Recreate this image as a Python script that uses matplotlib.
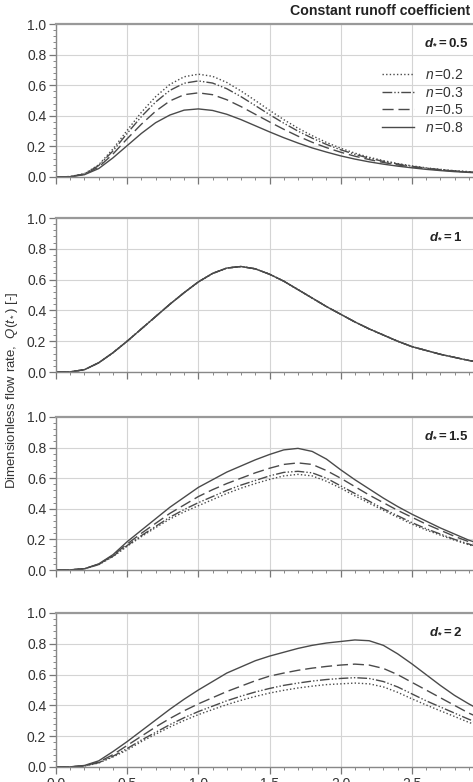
import matplotlib
matplotlib.use("Agg")
import matplotlib.pyplot as plt
from matplotlib.ticker import MultipleLocator

plt.rcParams['font.family'] = ['Liberation Sans', 'DejaVu Sans']
plt.rcParams['mathtext.fontset'] = 'custom'
plt.rcParams['mathtext.rm'] = 'Liberation Sans'
plt.rcParams['mathtext.it'] = 'Liberation Sans:italic'
plt.rcParams['mathtext.bf'] = 'Liberation Sans:bold'
plt.rcParams['mathtext.bfit'] = 'Liberation Sans:italic:bold'

# dimensionless time t*
t = [0.0, 0.1, 0.2, 0.3, 0.4, 0.5, 0.6, 0.7, 0.8, 0.9, 1.0,
     1.1, 1.2, 1.3, 1.4, 1.5, 1.6, 1.7, 1.8, 1.9, 2.0,
     2.1, 2.2, 2.3, 2.4, 2.5, 2.6, 2.7, 2.8, 2.9, 3.0]

n_values = [0.2, 0.3, 0.5, 0.8]
d_labels = ['0.5', '1', '1.5', '2']

# d* = 0.5
q05_n02 = [0, 0.003, 0.022, 0.08, 0.183, 0.305, 0.423, 0.525, 0.605, 0.655, 0.672,
           0.658, 0.618, 0.562, 0.5, 0.436, 0.375, 0.319, 0.27, 0.226, 0.188,
           0.156, 0.129, 0.107, 0.088, 0.073, 0.06, 0.05, 0.041, 0.035, 0.029]
q05_n03 = [0, 0.003, 0.02, 0.075, 0.17, 0.285, 0.395, 0.49, 0.566, 0.613, 0.628,
           0.614, 0.577, 0.525, 0.467, 0.408, 0.352, 0.3, 0.254, 0.213, 0.178,
           0.148, 0.123, 0.102, 0.085, 0.07, 0.058, 0.048, 0.04, 0.034, 0.028]
q05_n05 = [0, 0.002, 0.018, 0.065, 0.15, 0.25, 0.345, 0.43, 0.497, 0.538, 0.55,
           0.538, 0.505, 0.46, 0.41, 0.36, 0.312, 0.267, 0.227, 0.192, 0.162,
           0.136, 0.114, 0.095, 0.079, 0.066, 0.055, 0.046, 0.038, 0.032, 0.027]
q05_n08 = [0, 0.002, 0.015, 0.055, 0.125, 0.205, 0.285, 0.355, 0.405, 0.437, 0.445,
           0.435, 0.41, 0.375, 0.335, 0.295, 0.257, 0.222, 0.19, 0.163, 0.138,
           0.117, 0.099, 0.084, 0.071, 0.06, 0.05, 0.042, 0.035, 0.03, 0.025]

# d* = 1 (all n coincide)
q1 = [0, 0.001, 0.015, 0.06, 0.125, 0.2, 0.28, 0.36, 0.44, 0.515, 0.585,
      0.64, 0.675, 0.685, 0.67, 0.635, 0.59, 0.535, 0.48, 0.425, 0.375,
      0.325, 0.28, 0.24, 0.2, 0.165, 0.14, 0.115, 0.095, 0.075, 0.06]

# d* = 1.5
q15_n02 = [0, 0.001, 0.008, 0.035, 0.087, 0.155, 0.218, 0.277, 0.333, 0.38, 0.42,
           0.46, 0.5, 0.535, 0.565, 0.592, 0.615, 0.625, 0.615, 0.58, 0.535,
           0.485, 0.437, 0.39, 0.345, 0.3, 0.262, 0.228, 0.195, 0.165, 0.137]
q15_n03 = [0, 0.001, 0.008, 0.036, 0.09, 0.16, 0.225, 0.285, 0.345, 0.395, 0.44,
           0.48, 0.52, 0.555, 0.585, 0.615, 0.638, 0.645, 0.635, 0.6, 0.55,
           0.5, 0.45, 0.4, 0.355, 0.31, 0.27, 0.235, 0.2, 0.17, 0.14]
q15_n05 = [0, 0.001, 0.008, 0.038, 0.095, 0.17, 0.24, 0.305, 0.37, 0.425, 0.48,
           0.525, 0.565, 0.6, 0.635, 0.665, 0.69, 0.7, 0.69, 0.65, 0.6,
           0.545, 0.49, 0.44, 0.39, 0.345, 0.3, 0.26, 0.22, 0.185, 0.155]
q15_n08 = [0, 0.001, 0.008, 0.04, 0.1, 0.185, 0.26, 0.335, 0.41, 0.475, 0.54,
           0.59, 0.64, 0.68, 0.72, 0.755, 0.785, 0.795, 0.775, 0.725, 0.655,
           0.59, 0.53, 0.47, 0.415, 0.365, 0.32, 0.275, 0.235, 0.195, 0.165]

# d* = 2
q2_n02 = [0, 0.001, 0.006, 0.026, 0.065, 0.11, 0.165, 0.213, 0.26, 0.302, 0.34,
          0.373, 0.405, 0.433, 0.458, 0.48, 0.498, 0.513, 0.525, 0.535, 0.54,
          0.545, 0.54, 0.52, 0.485, 0.443, 0.403, 0.365, 0.328, 0.29, 0.258]
q2_n03 = [0, 0.001, 0.007, 0.028, 0.07, 0.12, 0.175, 0.225, 0.275, 0.32, 0.36,
          0.395, 0.43, 0.46, 0.487, 0.51, 0.53, 0.545, 0.558, 0.568, 0.575,
          0.58, 0.575, 0.555, 0.52, 0.475, 0.43, 0.39, 0.35, 0.31, 0.275]
q2_n05 = [0, 0.001, 0.008, 0.032, 0.08, 0.14, 0.2, 0.26, 0.315, 0.365, 0.41,
          0.45, 0.49, 0.525, 0.56, 0.59, 0.61, 0.628, 0.642, 0.653, 0.662,
          0.668, 0.662, 0.64, 0.6, 0.55, 0.5, 0.45, 0.4, 0.35, 0.31]
q2_n08 = [0, 0.001, 0.01, 0.04, 0.1, 0.165, 0.235, 0.305, 0.375, 0.44, 0.5,
          0.555, 0.61, 0.65, 0.69, 0.72, 0.745, 0.77, 0.79, 0.805, 0.815,
          0.825, 0.82, 0.79, 0.735, 0.67, 0.6, 0.53, 0.465, 0.41, 0.36]

panels = [
    [q05_n02, q05_n03, q05_n05, q05_n08],
    [q1, q1, q1, q1],
    [q15_n02, q15_n03, q15_n05, q15_n08],
    [q2_n02, q2_n03, q2_n05, q2_n08],
]

styles = [(0, (1, 1.6)), (0, (7, 1.5, 1, 1.5, 1, 1.5)), (0, (8, 3.5)), '-']
line_col = '#4a4a4a'

W, H = 473, 782
fig = plt.figure(figsize=(W / 100, H / 100), dpi=100)

# (top, bottom) of each panel in pixels
boxes = [(24, 177), (218, 372), (417, 570), (613, 767)]
ax_left, ax_right = 56, 483

for i, (top, bot) in enumerate(boxes):
    ax = fig.add_axes([ax_left / W, 1 - bot / H, (ax_right - ax_left) / W, (bot - top) / H])
    for q, ls, n in zip(panels[i], styles, n_values):
        ax.plot(t, q, color=line_col, lw=1.0, linestyle=ls, label=r'$n\,$=%s' % n)
    ax.set_xlim(0, 3.0)
    ax.set_ylim(0, 1.0)
    ax.xaxis.set_major_locator(MultipleLocator(0.5))
    ax.xaxis.set_minor_locator(MultipleLocator(0.1))
    ax.yaxis.set_major_locator(MultipleLocator(0.2))
    ax.yaxis.set_minor_locator(MultipleLocator(0.04))
    ax.xaxis.set_major_formatter(lambda v, p: '%.1f' % v)
    ax.yaxis.set_major_formatter(lambda v, p: '%.1f' % v)
    ax.grid(True, which='major', color='#d4d4d4', lw=0.8)
    ax.set_axisbelow(True)
    ax.tick_params(which='major', direction='out', length=5, width=0.9, color='#777777',
                   labelsize=10, labelcolor='#333333', pad=2)
    ax.tick_params(axis='x', pad=2.5)
    ax.tick_params(which='minor', direction='out', length=2.5, width=0.7, color='#888888')
    if i < 3:
        ax.tick_params(axis='x', labelbottom=False)
    for side in ['left', 'bottom']:
        ax.spines[side].set_color('#888888')
        ax.spines[side].set_linewidth(1.0)
    ax.spines['top'].set_color('#999999')
    ax.spines['top'].set_linewidth(1.6)
    ax.spines['right'].set_visible(False)
    ax.text(2.74, 0.88, r'$\mathbfit{d}_{\mathbf{*}}\mathbf{=%s}$' % d_labels[i],
            ha='center', va='center', fontsize=9.5, color='#222222')
    if i == 0:
        leg = ax.legend(loc='upper left', bbox_to_anchor=(0.74, 0.775), frameon=False,
                        fontsize=10, handlelength=2.3, handletextpad=0.8,
                        labelspacing=0.25, borderpad=0.2)
        for txt in leg.get_texts():
            txt.set_color('#333333')

fig.text(290 / W, 1 - 11 / H, 'Constant runoff coefficient', ha='left', va='center',
         fontsize=10.2, fontweight='bold', color='#222222')
fig.text(12 / W, 1 - 390 / H, r'Dimensionless flow rate,  $Q(t_*)$ [-]', rotation=90,
         ha='center', va='center', fontsize=9.5, color='#333333')

fig.savefig('out.png', dpi=100)
